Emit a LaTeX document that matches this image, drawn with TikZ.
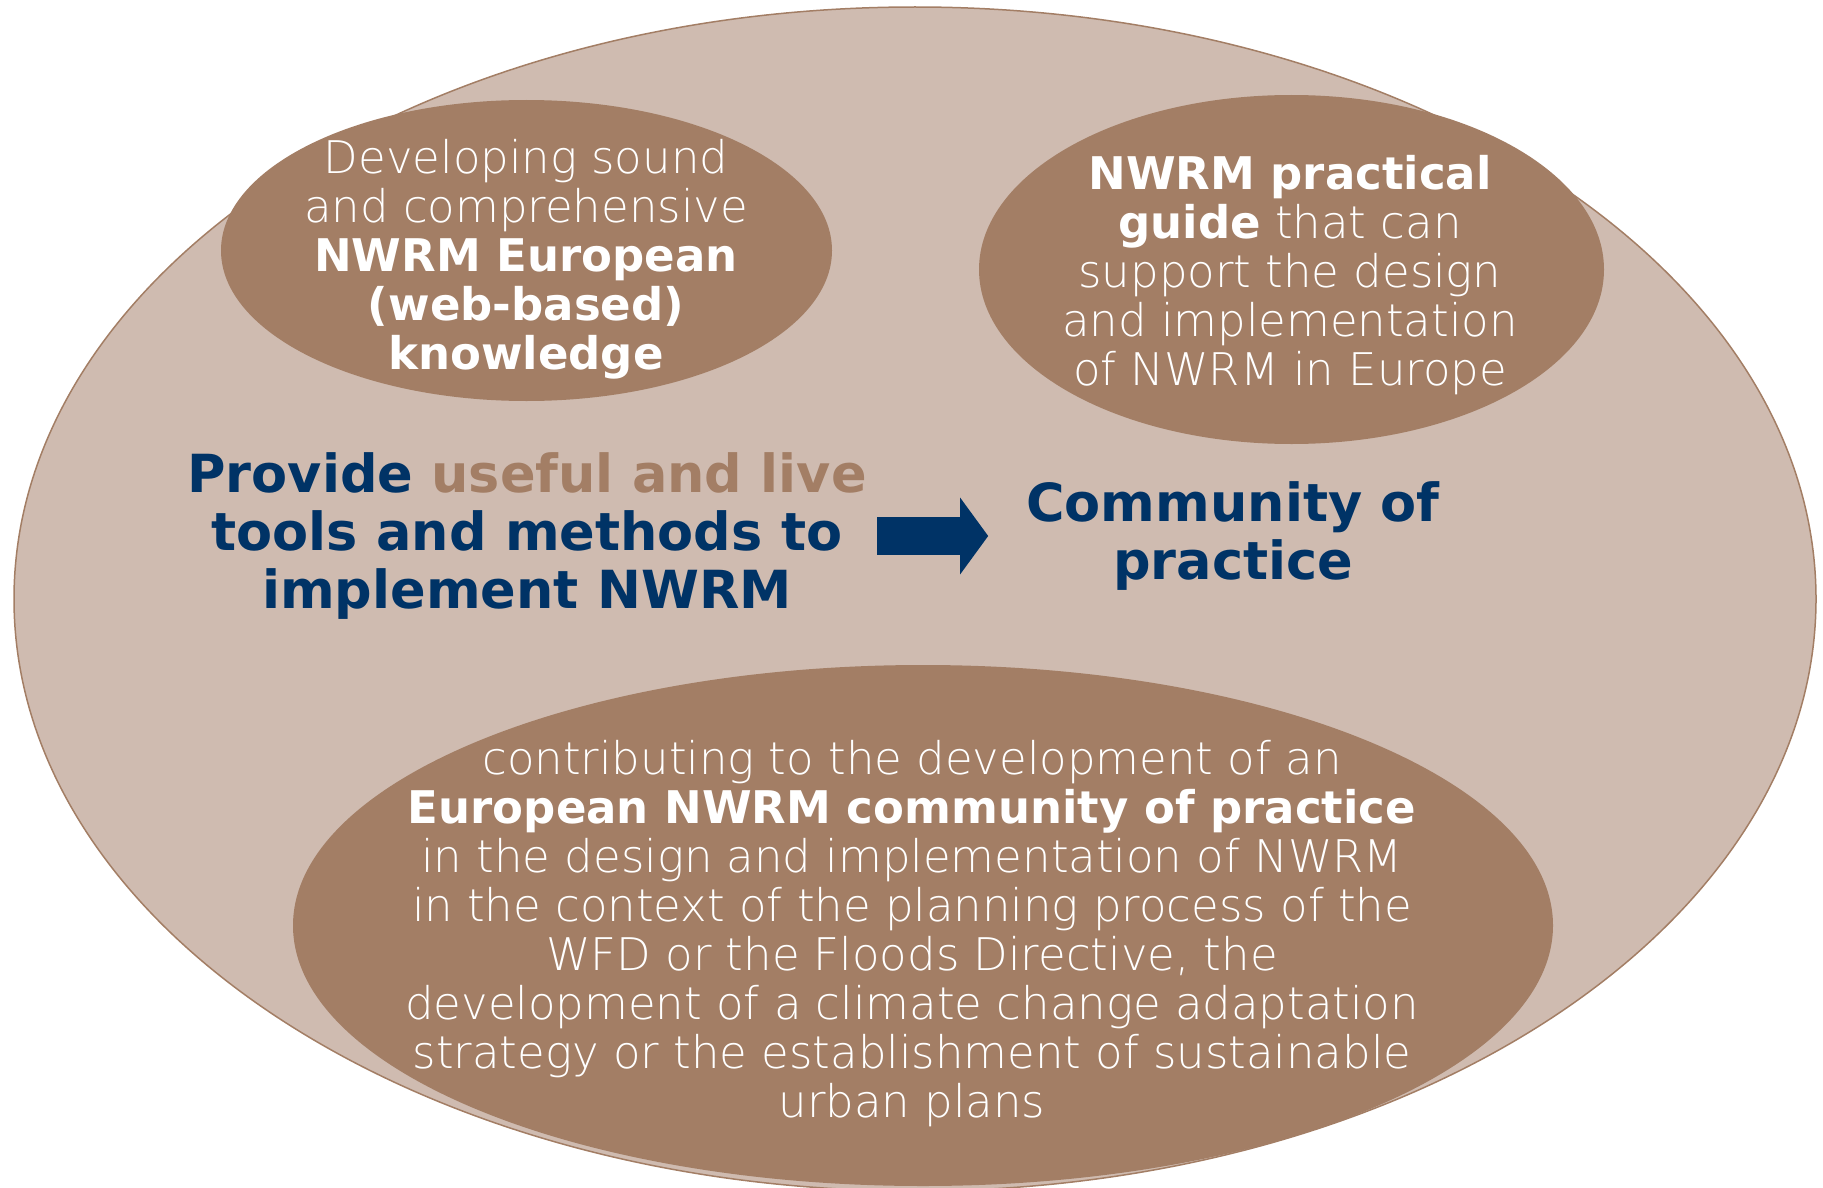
\documentclass[tikz,border=0pt]{standalone}
\usepackage{fontspec}
\setmainfont{DejaVu Sans}[UprightFont={* ExtraLight},BoldFont={* Bold}]
\usepackage{xcolor}
\usetikzlibrary{arrows.meta}
\usetikzlibrary{shapes.geometric}
\definecolor{pale}{RGB}{207,187,176}
\definecolor{blob}{RGB}{163,126,101}
\definecolor{navy}{RGB}{0,51,102}

\begin{document}
\begin{tikzpicture}[x=1pt,y=-1pt,
    oval/.style={ellipse,fill=blob,inner sep=0pt},
    wtxt/.style={text=white,align=center,inner sep=0pt,font=\fontsize{45}{49}\selectfont},
    btxt/.style={text=navy,align=center,inner sep=0pt,font=\bfseries\fontsize{52.5}{58}\selectfont},
    blockarr/.style={draw=navy,line width=37.4pt,-{Triangle[length=28pt,width=76.7pt,line width=0pt]}}]
    \useasboundingbox (0,0) rectangle (1823,1188);
    \node[ellipse,fill=pale,draw=blob,line width=1.5pt,inner sep=0pt,
      minimum width=1802pt,minimum height=1184pt] (big) at (915,599) {};
    %%
    \node[oval,minimum width=611pt,minimum height=301pt] (kb) at (526.5,250.5) {};
    \node[oval,minimum width=625pt,minimum height=349pt] (guide) at (1291.5,269.5) {};
    \node[oval,minimum width=1260pt,minimum height=521pt] (cop) at (923,925.5) {};
    %%
    \node[wtxt] (kbt) at (526,259) {Developing sound\\ and comprehensive\\
      \textbf{NWRM European}\\ \textbf{(web-based)}\\ \textbf{knowledge}};
    \node[wtxt] (guidet) at (1290,275.5) {\textbf{NWRM practical}\\ \textbf{guide} that can\\
      support the design\\ and implementation\\ of NWRM in Europe};
    \node[wtxt] (copt) at (912,934) {contributing to the development of an\\
      \textbf{European NWRM community of practice}\\
      in the design and implementation of NWRM\\
      in the context of the planning process of the\\
      WFD or the Floods Directive, the\\
      development of a climate change adaptation\\
      strategy or the establishment of sustainable\\
      urban plans};
    %%
    \node[btxt] (prov) at (527,536) {Provide \textcolor{blob}{useful and live}\\
      tools and methods to\\ implement NWRM};
    \node[btxt] (comm) at (1233,536) {Community of\\ practice};
    \draw[blockarr,shorten <=10.5pt,shorten >=38pt] (prov) -- (comm);
\end{tikzpicture}
\end{document}
